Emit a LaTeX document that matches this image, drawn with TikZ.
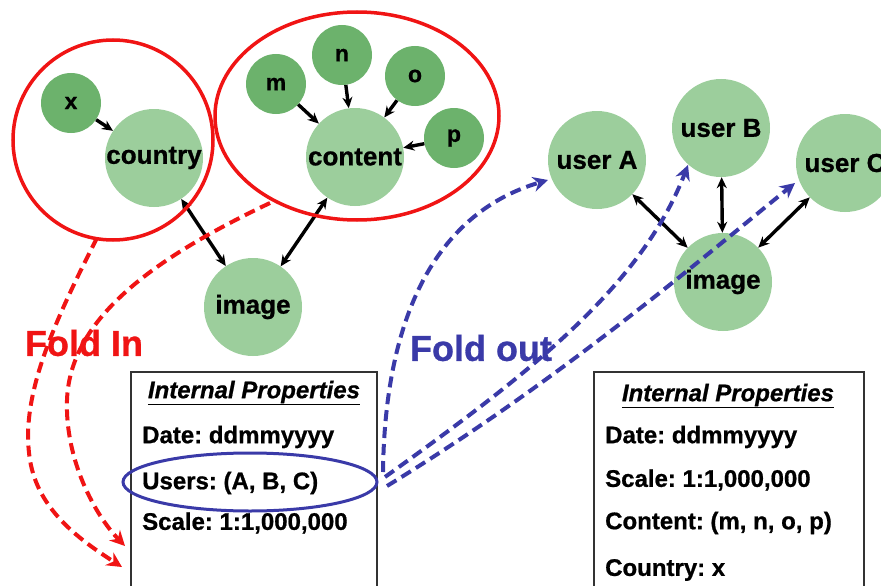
\documentclass[tikz,border=0pt]{standalone}
\usepackage{fontspec}
\setmainfont{Liberation Sans}[BoldFeatures={FakeBold=0.8},BoldItalicFeatures={FakeBold=0.8}]
\usetikzlibrary{arrows.meta}

\definecolor{leafgreen}{RGB}{108,178,108}
\definecolor{hubgreen}{RGB}{156,206,156}
\definecolor{foldred}{RGB}{240,20,20}
\definecolor{foldblue}{RGB}{58,58,168}

\begin{document}
\frenchspacing
\begin{tikzpicture}[x=1pt,y=-1pt,
  leaf/.style={circle,fill=leafgreen,minimum size=60pt,inner sep=0pt,
    font=\bfseries\fontsize{23}{23}\selectfont},
  hub/.style={circle,fill=hubgreen,minimum size=98pt,inner sep=0pt,
    font=\bfseries\fontsize{26}{26}\selectfont},
  oneway/.style={black,line width=3.4pt,-{Stealth[length=11pt,width=10pt]}},
  twoway/.style={black,line width=3.4pt,
    {Stealth[length=11pt,width=10pt]}-{Stealth[length=11pt,width=10pt]}},
  group/.style={draw=foldred,line width=3.5pt},
  redfold/.style={draw=foldred,line width=4pt,dash pattern=on 11pt off 6pt,
    -{Stealth[length=15pt,width=15pt]}},
  bluefold/.style={draw=foldblue,line width=4pt,dash pattern=on 11pt off 6pt,
    -{Stealth[length=15pt,width=15pt]}},
  propbox/.style={draw=black!80,line width=2.4pt},
  proptext/.style={anchor=west,inner sep=0pt,font=\bfseries\fontsize{24}{24}\selectfont},
  proptitle/.style={inner sep=0pt,font=\bfseries\itshape\fontsize{24}{24}\selectfont},
  foldlabel/.style={inner sep=0pt,font=\bfseries\fontsize{36}{36}\selectfont}
]
\useasboundingbox (0,0) rectangle (881,586);
\clip (0,0) rectangle (881,586);

% left cluster
\node[leaf] (x) at (71,103) {x};
\node[hub] (country) at (154,158) {country};
\node[leaf] (m) at (276,84) {m};
\node[leaf] (n) at (342,55) {n};
\node[leaf] (o) at (415,76) {o};
\node[leaf] (p) at (454,138) {p};
\node[hub] (content) at (355,157) {content};
\node[hub] (img) at (253,307) {image};

\draw[oneway] (x) -- (country);
\draw[oneway] (m) -- (content);
\draw[oneway] (n) -- (content);
\draw[oneway] (o) -- (content);
\draw[oneway] (p) -- (content);
\draw[twoway] (country) -- (img);
\draw[twoway] (content) -- (img);

% grouping outlines
\draw[group] (113,140) circle[radius=100];
\draw[group] (357,116) ellipse[x radius=142,y radius=104];

% right cluster
\node[hub] (ua) at (597,160) {user A};
\node[hub] (ub) at (721,128) {user B};
\node[hub] (uc) at (845,163) {user C};
\node[hub] (img2) at (723,282) {image};
\draw[twoway] (ua) -- (img2);
\draw[twoway] (ub) -- (img2);
\draw[twoway] (uc) -- (img2);

% property boxes
\draw[propbox] (131,372) rectangle (377,600);
\node[proptitle] (t1) at (254,393) {\underline{Internal Properties}};
\node[proptext] (d1) at (142,437) {Date: ddmmyyyy};
\node[proptext] (u1) at (142,483) {Users: (A, B, C)};
\node[proptext] (s1) at (142,523) {Scale: 1:1,000,000};

\draw[propbox] (594,372) rectangle (864,600);
\node[proptitle] (t2) at (728,396) {\underline{Internal Properties}};
\node[proptext] (d2) at (605,437) {Date: ddmmyyyy};
\node[proptext] (s2) at (605,480) {Scale: 1:1,000,000};
\node[proptext] (c2) at (605,523) {Content: (m, n, o, p)};
\node[proptext] (k2) at (605,570) {Country: x};

\draw[draw=foldblue,line width=3pt] (250,482) ellipse[x radius=127,y radius=29];

% fold labels
\node[foldlabel,text=foldred] (foldin) at (84,343) {Fold In};
\node[foldlabel,text=foldblue] (foldout) at (481,348) {Fold out};

% fold in
\coordinate (cIn1) at (97,238);
\coordinate (cIn2) at (270,203);
\coordinate (boxA) at (122,567);
\coordinate (boxB) at (125,546);
\draw[redfold] (cIn1) .. controls (50,330) and (20,400) .. (30,460)
  .. controls (38,510) and (80,540) .. (boxA);
\draw[redfold] (cIn2) .. controls (150,260) and (70,320) .. (67,400)
  .. controls (65,460) and (95,515) .. (boxB);

% fold out
\draw[bluefold] (383,472) .. controls (385,310) and (440,212) .. (548,180);
\draw[bluefold] (385,477) .. controls (520,380) and (640,290) .. (688,165);
\draw[bluefold] (387,486) .. controls (560,380) and (700,260) .. (795,183);
\end{tikzpicture}
\end{document}
